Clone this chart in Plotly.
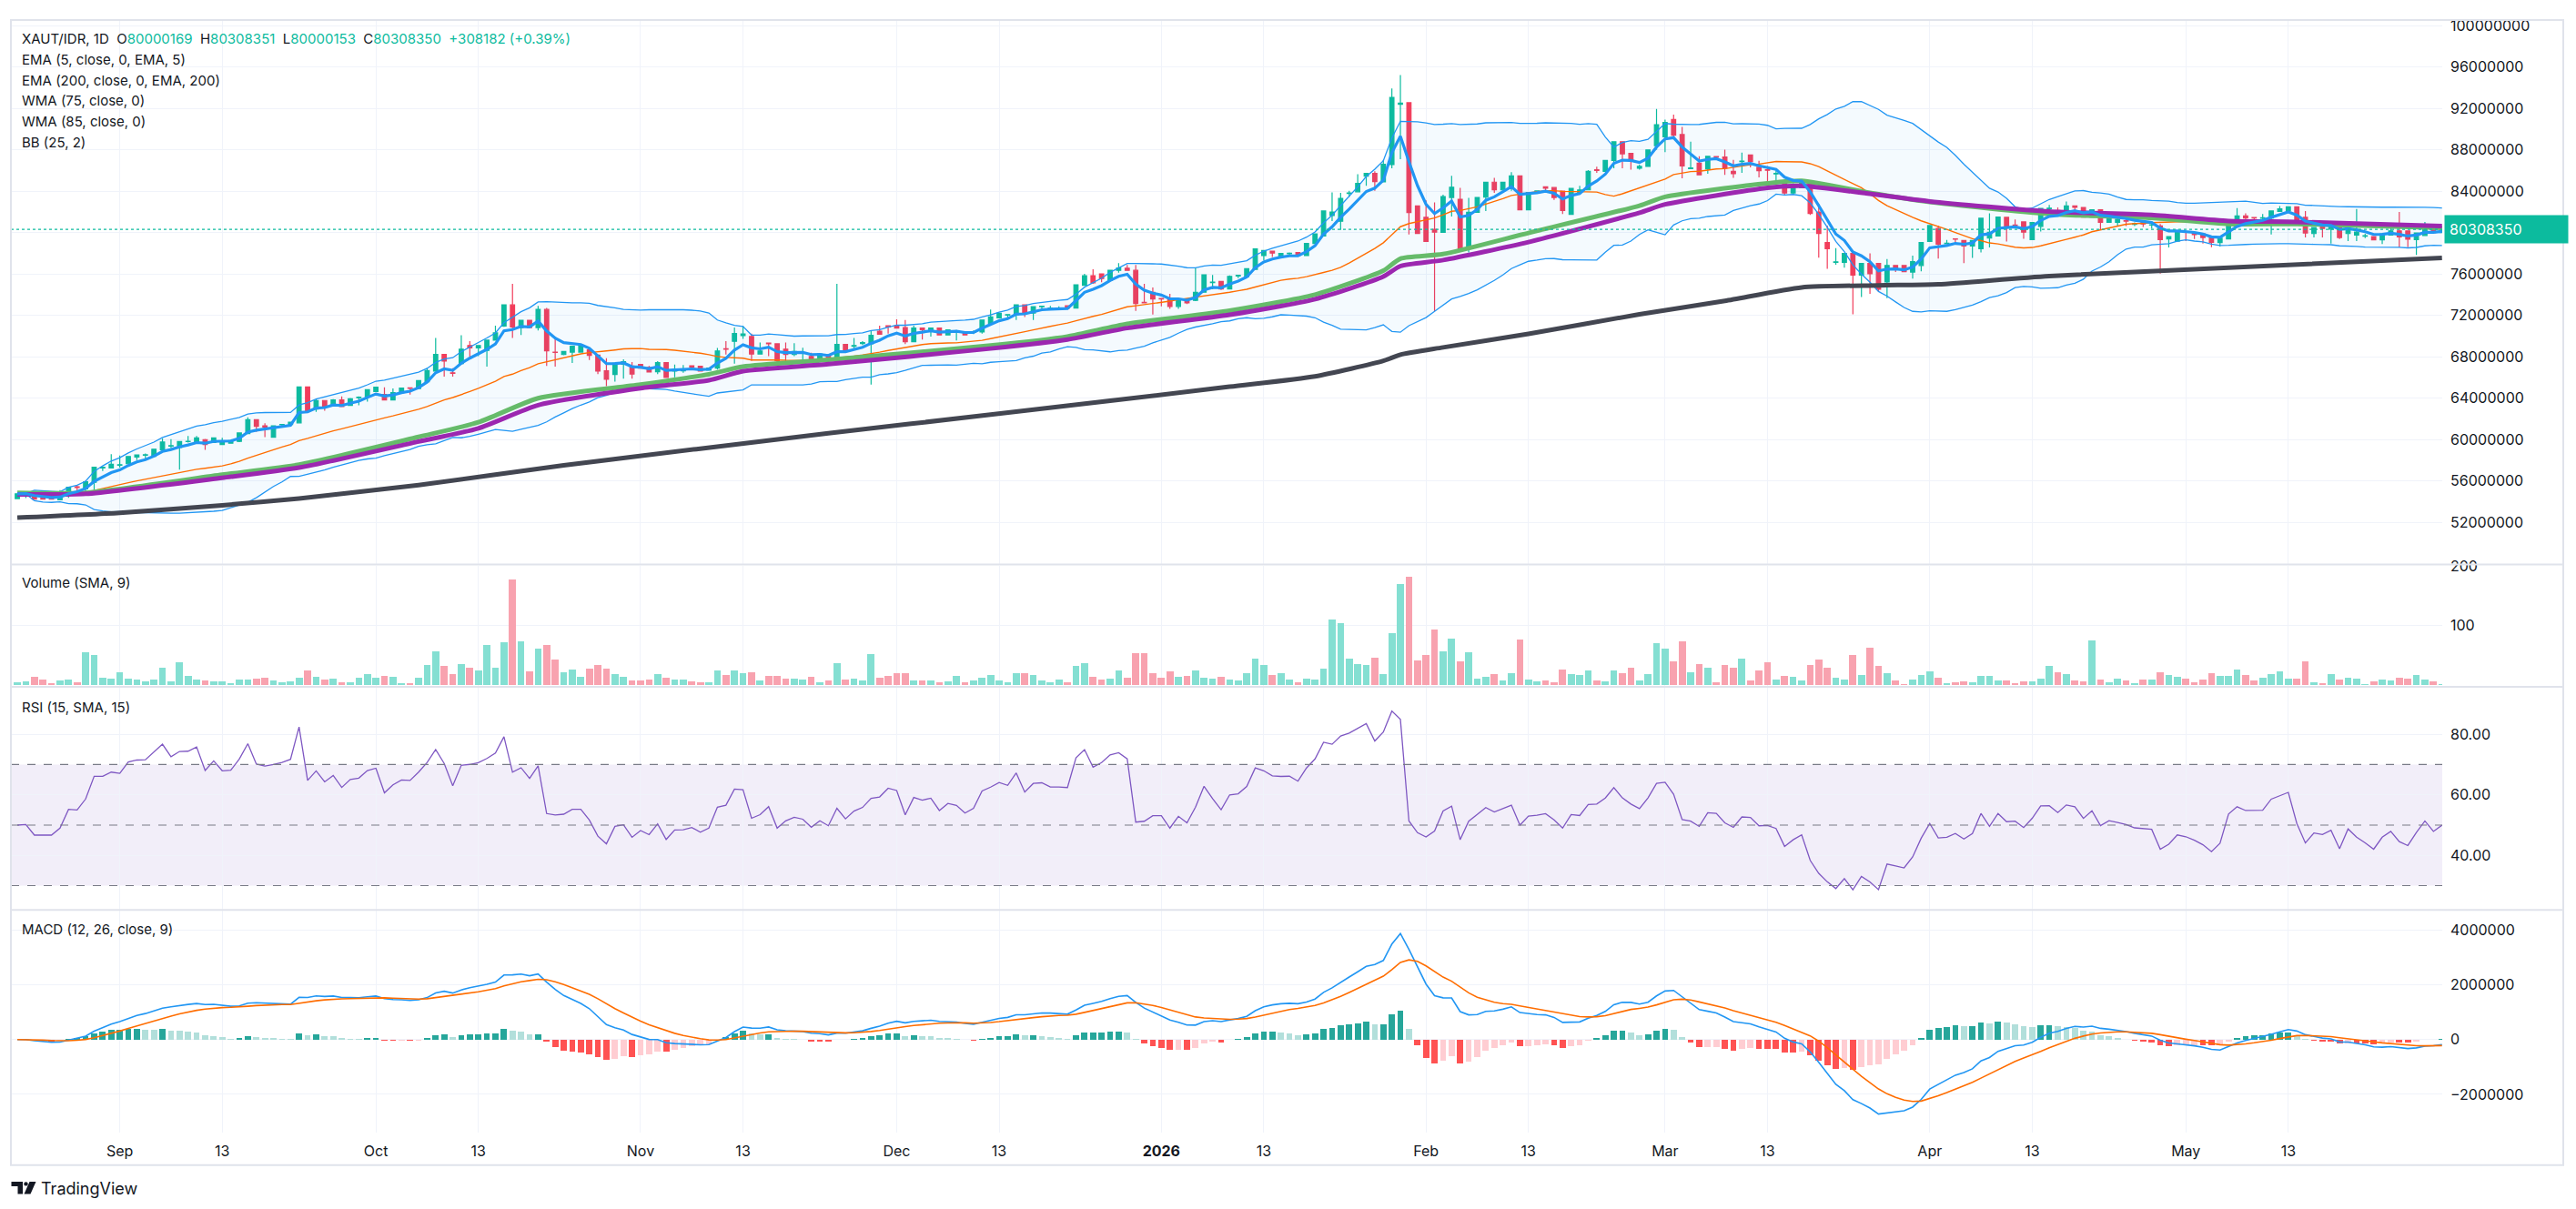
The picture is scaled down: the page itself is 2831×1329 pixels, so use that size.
import numpy as np
import pandas as pd
import plotly.graph_objects as go

# ---------------- data (prices in millions IDR) ----------------
START = "2025-08-20"

open_m = [
54.29, 54.70, 54.75, 54.58, 54.87, 54.17, 55.04, 55.42, 55.22, 55.86,
57.25, 57.25, 57.52, 57.66, 58.30, 58.48, 58.36, 59.00, 59.36, 59.23,
59.79, 59.75, 59.99, 59.70, 59.52, 59.64, 59.81, 60.57, 61.91, 61.32,
60.22, 61.42, 61.44, 61.61, 65.08, 62.95, 63.77, 63.30, 63.83, 63.30,
64.03, 64.12, 64.64, 64.35, 63.83, 64.52, 65.00, 64.93, 65.59, 66.61,
68.23, 66.45, 67.33, 69.08, 68.85, 68.61, 69.60, 70.97, 73.01, 70.82,
71.52, 70.82, 72.57, 68.45, 68.21, 68.44, 68.44, 68.67, 68.15, 66.64,
66.29, 67.27, 67.10, 67.25, 66.96, 66.55, 67.42, 66.61, 66.64, 67.13,
67.07, 66.69, 66.90, 68.78, 69.49, 70.04, 69.95, 68.26, 69.31, 69.25,
68.73, 68.21, 68.33, 68.03, 67.86, 68.21, 67.57, 69.19, 69.00, 69.28,
69.25, 70.47, 71.00, 71.00, 70.82, 69.45, 70.77, 70.47, 70.77, 70.10,
70.45, 70.42, 70.34, 70.39, 71.20, 71.75, 72.03, 72.05, 73.01, 72.22,
72.84, 72.67, 72.67, 72.92, 72.71, 74.90, 75.83, 76.00, 75.39, 76.35,
76.55, 76.35, 73.25, 74.23, 73.62, 73.59, 72.86, 73.59, 73.44, 74.23,
75.17, 75.27, 74.55, 75.80, 75.74, 76.44, 77.78, 78.21, 77.63, 77.95,
78.07, 77.78, 78.94, 79.67, 81.64, 81.09, 83.78, 83.94, 85.45, 85.72,
84.90, 86.56, 92.40, 92.55, 82.57, 81.47, 80.31, 80.02, 83.39, 83.21,
78.56, 81.96, 83.42, 84.87, 84.12, 84.23, 85.48, 82.20, 83.83, 84.41,
84.35, 84.00, 81.76, 83.88, 84.12, 86.06, 85.92, 86.97, 88.77, 87.66,
86.21, 86.39, 88.39, 89.26, 90.92, 89.47, 86.18, 86.71, 86.15, 87.34,
87.29, 85.92, 86.85, 87.49, 86.30, 86.06, 85.66, 84.84, 83.83, 84.32,
84.84, 81.99, 79.03, 77.11, 77.11, 77.98, 75.89, 77.02, 77.02, 75.22,
76.82, 76.82, 76.18, 76.82, 79.14, 80.39, 78.91, 79.38, 79.23, 78.71,
78.44, 79.46, 79.67, 81.47, 80.72, 81.03, 79.32, 80.60, 82.30, 82.14,
81.79, 82.57, 82.43, 81.50, 82.20, 80.98, 80.98, 81.15, 80.80, 80.98,
80.72, 80.63, 79.38, 79.17, 80.07, 79.96, 79.87, 79.58, 79.03, 79.38,
81.06, 81.61, 81.45, 81.39, 81.41, 82.05, 82.14, 82.49, 81.47, 79.90,
80.60, 80.33, 80.54, 79.90, 79.75, 79.64, 79.61, 79.29, 79.75, 80.16,
80.16, 79.32, 79.72, 80.54, 80.000169]

high_m = [
54.80, 54.85, 54.80, 54.62, 54.95, 55.10, 55.39, 55.54, 56.03, 57.31,
57.35, 58.59, 58.44, 58.36, 58.50, 58.65, 59.06, 60.10, 60.04, 59.85,
60.34, 60.34, 60.05, 60.20, 60.16, 59.95, 60.63, 62.14, 61.95, 61.56,
61.32, 61.50, 61.70, 65.10, 65.10, 63.88, 63.80, 63.90, 64.17, 64.00,
64.17, 64.81, 65.05, 65.05, 64.93, 64.96, 65.02, 65.75, 66.90, 69.81,
68.26, 66.90, 70.07, 69.51, 69.08, 69.60, 71.00, 73.01, 75.04, 71.52,
71.55, 72.92, 72.71, 69.95, 68.55, 69.02, 69.05, 68.70, 68.18, 67.86,
67.36, 67.74, 67.48, 67.28, 67.10, 67.57, 67.45, 67.25, 67.19, 67.15,
67.10, 66.92, 68.85, 69.51, 70.82, 70.97, 70.24, 69.37, 69.33, 69.28,
69.37, 69.31, 68.87, 68.38, 68.30, 68.25, 75.04, 69.22, 69.81, 69.51,
70.53, 71.00, 71.02, 71.61, 71.55, 71.00, 70.80, 70.80, 70.80, 70.62,
70.59, 70.45, 70.53, 71.55, 72.57, 72.22, 72.13, 73.01, 73.05, 72.83,
72.92, 72.92, 72.86, 72.95, 74.95, 76.00, 76.44, 76.02, 76.35, 77.05,
76.87, 76.87, 75.04, 74.69, 73.65, 74.08, 73.59, 73.62, 76.58, 75.93,
75.91, 75.30, 75.86, 75.86, 76.50, 78.42, 78.27, 78.25, 78.00, 78.07,
78.10, 78.94, 79.87, 82.08, 83.88, 83.83, 84.03, 85.63, 85.72, 85.92,
87.02, 93.92, 95.23, 92.60, 82.60, 83.10, 82.92, 83.65, 85.48, 84.32,
83.36, 83.45, 84.87, 85.28, 84.90, 85.83, 85.50, 83.88, 84.03, 84.43,
84.38, 84.02, 84.26, 84.52, 86.04, 86.36, 86.97, 88.77, 88.80, 87.70,
86.56, 87.98, 91.94, 90.92, 91.39, 90.20, 88.77, 87.37, 87.37, 87.40,
88.01, 87.02, 87.72, 87.52, 86.94, 86.44, 85.98, 84.86, 84.76, 84.84,
84.86, 82.78, 80.68, 78.50, 77.98, 78.00, 77.02, 77.98, 77.05, 77.43,
76.85, 76.85, 77.78, 79.03, 80.68, 80.68, 79.29, 79.40, 79.25, 79.23,
81.38, 81.85, 81.50, 81.50, 81.27, 81.05, 81.00, 82.34, 82.66, 82.43,
83.01, 82.60, 82.45, 82.20, 82.22, 81.41, 81.41, 81.41, 80.98, 81.00,
80.98, 80.83, 79.65, 80.16, 80.10, 79.98, 79.90, 79.60, 79.46, 81.12,
82.37, 81.85, 81.47, 81.79, 82.08, 82.57, 82.49, 82.51, 82.08, 80.48,
80.62, 80.60, 80.56, 80.54, 82.28, 79.87, 79.63, 79.87, 80.54, 81.99,
80.18, 79.96, 81.03, 80.56, 80.308351]

low_m = [
54.23, 54.35, 54.20, 54.20, 54.20, 54.11, 54.37, 54.75, 54.87, 55.16,
56.96, 57.25, 57.28, 57.60, 58.01, 58.07, 58.30, 58.88, 59.17, 57.08,
59.70, 59.70, 59.00, 59.65, 59.50, 59.60, 59.75, 60.55, 60.74, 60.22,
60.20, 61.32, 61.40, 61.55, 62.75, 62.66, 62.78, 63.25, 63.15, 63.25,
63.30, 63.65, 64.60, 63.80, 63.80, 64.50, 64.35, 64.90, 65.59, 66.61,
66.08, 66.08, 67.33, 67.92, 68.06, 67.04, 69.55, 70.90, 69.81, 70.10,
70.80, 70.53, 67.10, 67.04, 68.15, 67.39, 68.40, 67.68, 66.32, 65.15,
65.59, 65.88, 65.88, 66.88, 66.52, 66.32, 65.94, 66.02, 66.46, 66.69,
66.58, 66.65, 66.75, 68.21, 67.33, 69.72, 67.62, 68.20, 68.06, 67.48,
67.39, 68.06, 67.68, 67.48, 67.80, 67.90, 67.50, 68.45, 68.70, 69.14,
65.30, 70.13, 70.24, 70.75, 69.22, 69.40, 69.66, 69.95, 70.05, 70.05,
69.57, 70.05, 70.18, 70.24, 71.15, 71.70, 71.70, 71.55, 71.84, 71.55,
72.51, 72.51, 72.51, 72.65, 72.65, 74.85, 75.04, 75.19, 75.35, 76.12,
76.30, 72.42, 73.15, 72.07, 72.86, 72.63, 72.63, 73.09, 73.38, 74.20,
74.52, 74.46, 74.50, 75.59, 75.70, 76.40, 77.34, 77.63, 77.60, 77.83,
77.75, 77.75, 78.90, 79.65, 81.12, 80.25, 83.45, 83.90, 84.52, 84.03,
84.85, 86.21, 87.08, 79.81, 79.85, 79.14, 72.39, 80.00, 81.56, 78.42,
78.07, 81.90, 82.08, 83.83, 84.10, 84.03, 82.20, 82.20, 83.80, 83.94,
83.16, 81.79, 81.74, 83.85, 84.10, 85.77, 85.90, 86.21, 86.21, 86.07,
86.07, 86.35, 88.01, 87.78, 89.18, 85.25, 86.15, 85.57, 85.69, 87.02,
85.57, 85.28, 85.77, 86.30, 85.34, 84.76, 84.76, 83.65, 83.65, 84.30,
81.70, 77.57, 76.50, 76.90, 76.61, 72.10, 73.76, 74.08, 74.29, 73.65,
76.18, 76.18, 75.56, 76.26, 79.10, 77.48, 78.88, 79.03, 77.05, 77.54,
78.07, 78.56, 79.65, 79.14, 80.48, 79.40, 79.30, 80.10, 81.91, 81.79,
81.75, 81.79, 81.48, 81.48, 80.25, 80.95, 80.63, 80.63, 80.63, 80.54,
80.39, 76.03, 78.56, 79.15, 79.17, 79.38, 78.94, 78.59, 78.65, 79.35,
81.03, 80.63, 81.27, 81.27, 79.81, 81.99, 81.99, 81.09, 79.52, 79.52,
79.52, 78.94, 79.38, 79.17, 79.17, 79.46, 79.29, 78.88, 79.70, 78.56,
78.59, 77.83, 79.70, 79.96, 80.000153]

close_m = [
54.75, 54.78, 54.23, 54.23, 54.23, 54.52, 55.39, 55.36, 55.91, 57.31,
57.31, 57.60, 57.56, 58.36, 58.50, 58.52, 59.06, 59.75, 59.40, 59.81,
59.83, 60.16, 59.52, 60.16, 59.87, 59.90, 60.63, 61.91, 61.27, 61.21,
61.32, 61.46, 61.67, 65.08, 62.78, 63.77, 63.19, 63.83, 63.19, 63.94,
64.08, 64.81, 65.05, 63.83, 64.52, 64.96, 64.94, 65.69, 66.66, 68.23,
67.57, 66.40, 68.73, 68.85, 69.08, 69.60, 70.30, 73.01, 70.88, 71.52,
70.82, 72.57, 68.56, 68.41, 68.50, 69.02, 69.02, 68.12, 66.61, 65.82,
67.36, 67.51, 66.32, 66.90, 66.52, 67.42, 65.99, 66.78, 66.81, 66.98,
66.61, 66.90, 68.56, 68.73, 70.24, 70.21, 68.26, 68.56, 69.25, 67.62,
68.21, 68.50, 68.37, 67.80, 68.26, 67.92, 69.19, 68.50, 69.08, 69.36,
70.07, 70.18, 70.88, 70.77, 69.45, 70.77, 70.62, 70.77, 70.10, 70.59,
70.49, 70.10, 70.38, 71.55, 71.84, 72.19, 72.07, 73.01, 72.19, 72.83,
72.88, 72.71, 72.71, 72.69, 74.95, 75.83, 75.13, 75.56, 76.35, 76.58,
76.35, 73.15, 73.21, 73.59, 73.59, 72.86, 73.59, 73.21, 74.23, 75.91,
75.21, 74.55, 75.77, 75.86, 76.50, 78.42, 78.27, 78.01, 77.98, 78.00,
77.78, 78.94, 79.87, 82.08, 81.99, 83.30, 83.83, 84.76, 85.72, 84.93,
86.59, 93.05, 92.50, 81.93, 79.90, 79.14, 80.04, 83.48, 84.38, 78.42,
81.96, 83.39, 84.87, 84.12, 84.87, 85.48, 82.20, 83.88, 84.03, 84.29,
83.39, 82.14, 84.26, 84.12, 85.92, 86.00, 86.97, 88.77, 87.61, 86.91,
86.39, 87.98, 90.43, 90.63, 89.41, 86.44, 86.24, 85.57, 87.37, 87.29,
86.21, 85.69, 86.90, 86.85, 85.98, 86.02, 85.72, 83.83, 84.41, 84.84,
81.85, 79.90, 78.44, 77.17, 77.98, 75.89, 77.02, 76.03, 74.52, 76.82,
76.52, 76.21, 77.19, 79.03, 80.68, 78.88, 78.96, 79.35, 78.71, 79.23,
81.38, 80.02, 81.50, 80.63, 80.68, 80.04, 80.98, 82.34, 82.36, 81.79,
82.57, 82.43, 81.50, 82.20, 80.98, 81.41, 81.27, 81.10, 80.86, 80.83,
80.76, 79.32, 79.61, 80.16, 80.04, 79.81, 79.52, 79.06, 79.46, 81.12,
81.61, 81.41, 81.41, 81.43, 82.08, 82.28, 82.49, 81.09, 79.96, 80.48,
80.39, 80.60, 79.52, 80.54, 80.04, 79.69, 79.29, 79.87, 80.16, 79.58,
79.35, 79.96, 80.54, 80.000168, 80.30835]

volume = [
5, 6.5, 13.6, 9, 3, 7.5, 9, 5, 54.5, 50.5,
12, 10.6, 21, 10.6, 9, 6.5, 9, 29, 6.5, 38,
15, 9, 7.5, 6.5, 6.5, 3, 9, 9, 10.6, 12,
7.5, 5, 6.5, 12, 24, 13.6, 9, 10.6, 5, 5,
12, 18, 12, 15, 13.6, 3, 3, 12, 34, 56,
32, 18, 35, 29, 24, 67, 29, 71, 177, 73,
23, 61, 67, 42, 21, 26, 13.6, 27, 33, 27,
18, 13.6, 7.5, 7.5, 9, 18, 12, 9, 9, 6,
4.5, 4.5, 24, 16.7, 24, 20, 21, 7.5, 15, 15,
10.6, 10.6, 9, 13.6, 4.5, 7.5, 36, 9, 10.6, 7.5,
51.5, 12, 15, 19.7, 19.7, 7.5, 7.5, 7.5, 4.5, 6,
15, 4.5, 7.5, 12, 16.7, 7.5, 4.5, 19.7, 19.7, 16.7,
7.5, 4.5, 9, 4.5, 32, 36, 13.6, 9, 10.6, 24,
12, 53, 53, 19.7, 12, 23, 13.6, 15, 24, 12,
10.6, 13.6, 9, 7.5, 19.7, 44, 33, 16.7, 20, 9.6,
5, 11, 9.6, 28, 110, 103.5, 44, 35, 34, 46,
18.7, 87, 170, 182, 41, 50.5, 93, 56.6, 78, 40,
55, 11, 14, 18.7, 8, 20, 76, 9.6, 6.6, 8,
5, 26, 18.7, 17, 24.7, 8, 6.6, 24.7, 20, 29,
8, 18.7, 70, 61, 40, 73, 21.7, 35, 29, 5,
34, 29, 44, 8, 24.7, 38, 9.6, 15.7, 14, 8,
34, 43, 29, 12.6, 9.6, 50.5, 17, 62.6, 32, 20,
8, 2, 9.6, 17, 23, 12.6, 3.5, 5, 6.6, 5,
15.7, 15.7, 8, 8, 3.5, 6.6, 6.6, 11, 32, 21.7,
18.7, 8, 6.6, 75, 9.6, 5, 11, 8, 3.5, 9.6,
9.6, 21.7, 17, 14, 11, 5, 9.6, 20, 15.7, 15.7,
26, 17, 8, 12.6, 18.7, 23, 11, 11, 40, 5,
3.5, 18.7, 9.6, 12.6, 11, 2, 6.6, 9.6, 8, 12.6,
11, 17, 9.6, 6.6, 2]

# slow moving averages (day index from START, value in millions)
ema200_day = [0, 12, 24, 33, 47, 64, 95, 114, 142, 152, 160, 162, 167, 177, 190, 200, 209, 218, 225, 238, 284]
ema200_m   = [52.45, 52.92, 53.64, 54.3, 55.6, 57.5, 60.6, 62.4, 65.1, 66.1, 67.6, 68.2, 68.9, 70.2, 72.1, 73.4, 74.7, 74.9, 75.0, 75.8, 77.55]
wma75_day = [0, 8, 24, 33, 47, 54, 61, 73, 81, 85, 95, 114, 123, 130, 142, 152, 160, 162, 167, 177, 190, 193, 205, 209, 217, 224, 238, 250, 259, 267, 284]
wma75_m   = [54.85, 54.85, 56.6, 57.57, 60.25, 61.66, 63.99, 65.3, 66.3, 67.04, 67.7, 69.08, 69.95, 71.17, 72.45, 74.0, 76.32, 77.48, 77.92, 79.96, 82.6, 83.45, 84.76, 84.99, 83.83, 82.95, 81.8, 81.41, 80.83, 80.83, 80.45]
wma85_day = wma75_day
wma85_m   = [54.7, 54.75, 56.3, 57.28, 59.8, 61.08, 63.32, 64.95, 65.73, 66.6, 67.28, 68.79, 69.66, 70.77, 72.05, 73.56, 75.74, 76.76, 77.34, 79.08, 81.92, 82.72, 84.32, 84.52, 83.74, 83.01, 82.03, 81.70, 81.12, 81.03, 80.63]

tick_dates = ["2025-09-01", "2025-09-13", "2025-10-01", "2025-10-13", "2025-11-01", "2025-11-13",
              "2025-12-01", "2025-12-13", "2026-01-01", "2026-01-13", "2026-02-01", "2026-02-13",
              "2026-03-01", "2026-03-13", "2026-04-01", "2026-04-13", "2026-05-01", "2026-05-13"]
tick_text = ["Sep", "13", "Oct", "13", "Nov", "13", "Dec", "13", "<b>2026</b>", "13",
             "Feb", "13", "Mar", "13", "Apr", "13", "May", "13"]

price_ticks_m = [52, 56, 60, 64, 68, 72, 76, 80, 84, 88, 92, 96, 100]
last_close = 80308350

# ---------------- derived ----------------
M = 1_000_000
n = len(close_m)
dates = pd.date_range(START, periods=n, freq="D")
t0 = pd.Timestamp(START)
o = np.array(open_m) * M
h = np.array(high_m) * M
l = np.array(low_m) * M
c = np.array(close_m) * M
vol = np.array(volume, dtype=float)

cs = pd.Series(c)
ema5 = cs.ewm(span=5, adjust=False).mean()
basis = cs.rolling(25, min_periods=1).mean()
dev = cs.rolling(25, min_periods=1).std(ddof=0)
bb_up = basis + 2 * dev
bb_lo = basis - 2 * dev

# RSI 15 (Wilder)
diff = np.diff(c, prepend=c[0])
ag = al = 0.3 * M
rsi = []
for d in diff:
    ag = (ag * 14 + max(d, 0)) / 15
    al = (al * 14 + max(-d, 0)) / 15
    rsi.append(100 * ag / (ag + al))

ema12 = cs.ewm(span=12, adjust=False).mean()
ema26 = cs.ewm(span=26, adjust=False).mean()
macd = ema12 - ema26
signal = macd.ewm(span=9, adjust=False).mean()
hist = (macd - signal).values

UP = "#0CBB9E"
DN = "#F23D5B"
VUP = "#84DFD2"
VDN = "#F8A2AF"
GRID = "#F0F3FA"
TXT = "#131722"
FONT = "Inter, Roboto, sans-serif"

vcol = [VUP if c[i] >= o[i] else VDN for i in range(n)]
hcol = []
for i in range(n):
    prev = hist[i - 1] if i > 0 else 0
    if hist[i] >= 0:
        hcol.append("#26A69A" if hist[i] > prev else "#B2DFDB")
    else:
        hcol.append("#FF5252" if hist[i] < prev else "#FFCDD2")

# ---------------- layout geometry (px) ----------------
W, H = 2831, 1329
PL, PR, PT, PB = 12, 2684, 13, 1245


def px_x(px):
    return (px - PL) / (PR - PL)


def px_y(py):
    return (PB - py) / (PB - PT)


def dom(top, bot):
    return [px_y(bot), px_y(top)]


fig = go.Figure()

def d2(idx):
    return [t0 + pd.Timedelta(days=int(k)) for k in idx]

# BB
fig.add_trace(go.Scatter(x=dates, y=bb_up, mode="lines", line=dict(color="#2196F3", width=1.3),
                         xaxis="x", yaxis="y", hoverinfo="skip"))
fig.add_trace(go.Scatter(x=dates, y=bb_lo, mode="lines", line=dict(color="#2196F3", width=1.3),
                         fill="tonexty", fillcolor="rgba(33,150,243,0.05)", xaxis="x", yaxis="y", hoverinfo="skip"))
fig.add_trace(go.Scatter(x=dates, y=basis, mode="lines", line=dict(color="#FF6D00", width=1.4),
                         xaxis="x", yaxis="y", hoverinfo="skip"))
fig.add_trace(go.Scatter(x=d2(ema200_day), y=np.array(ema200_m) * M, mode="lines",
                         line=dict(color="#434651", width=5, shape="spline", smoothing=0.6),
                         xaxis="x", yaxis="y", hoverinfo="skip"))
fig.add_trace(go.Scatter(x=d2(wma75_day), y=np.array(wma75_m) * M, mode="lines",
                         line=dict(color="#66BB6A", width=5, shape="spline", smoothing=0.6),
                         xaxis="x", yaxis="y", hoverinfo="skip"))
fig.add_trace(go.Scatter(x=d2(wma85_day), y=np.array(wma85_m) * M, mode="lines",
                         line=dict(color="#9C27B0", width=5, shape="spline", smoothing=0.6),
                         xaxis="x", yaxis="y", hoverinfo="skip"))
fig.add_trace(go.Scatter(x=dates, y=ema5, mode="lines", line=dict(color="#2196F3", width=3.2),
                         xaxis="x", yaxis="y", hoverinfo="skip"))
fig.add_trace(go.Candlestick(x=dates, open=o, high=h, low=l, close=c,
                             increasing=dict(line=dict(color=UP, width=1.2), fillcolor=UP),
                             decreasing=dict(line=dict(color=DN, width=1.2), fillcolor=DN),
                             whiskerwidth=0, xaxis="x", yaxis="y", hoverinfo="skip"))
# volume
fig.add_trace(go.Bar(x=dates, y=vol, marker=dict(color=vcol, line=dict(width=0)),
                     width=0.82 * 86400000, xaxis="x2", yaxis="y2", hoverinfo="skip"))
# RSI
fig.add_trace(go.Scatter(x=dates, y=rsi, mode="lines", line=dict(color="#7E57C2", width=1.3),
                         xaxis="x3", yaxis="y3", hoverinfo="skip"))
# MACD
fig.add_trace(go.Bar(x=dates, y=hist, marker=dict(color=hcol, line=dict(width=0)),
                     width=0.72 * 86400000, xaxis="x4", yaxis="y4", hoverinfo="skip"))
fig.add_trace(go.Scatter(x=dates, y=macd, mode="lines", line=dict(color="#2196F3", width=1.6),
                         xaxis="x4", yaxis="y4", hoverinfo="skip"))
fig.add_trace(go.Scatter(x=dates, y=signal, mode="lines", line=dict(color="#FF6D00", width=1.6),
                         xaxis="x4", yaxis="y4", hoverinfo="skip"))

x_range = [t0 - pd.Timedelta(hours=18), t0 + pd.Timedelta(days=284.03)]
xbase = dict(type="date", range=x_range, tickvals=tick_dates, ticktext=tick_text,
             showgrid=True, gridcolor=GRID, gridwidth=1, zeroline=False, showline=False,
             ticks="", fixedrange=True, rangeslider=dict(visible=False), domain=[0, 1])
ybase = dict(side="right", showgrid=True, gridcolor=GRID, gridwidth=1, zeroline=False,
             showline=False, ticks="", fixedrange=True,
             tickfont=dict(size=16, color=TXT, family=FONT), ticklabelstandoff=8)

price_text = ["" if v == 80 else str(int(v * M)) for v in price_ticks_m]

fig.update_layout(
    width=W, height=H, autosize=False,
    margin=dict(l=PL, r=W - PR, t=PT, b=H - PB, pad=0),
    paper_bgcolor="white", plot_bgcolor="white",
    showlegend=False, hovermode=False, bargap=0,
    font=dict(family=FONT, color=TXT, size=16),
    xaxis=dict(xbase, anchor="y", showticklabels=False),
    xaxis2=dict(xbase, anchor="y2", matches="x", showticklabels=False),
    xaxis3=dict(xbase, anchor="y3", matches="x", showticklabels=False),
    xaxis4=dict(xbase, anchor="y4", matches="x", showticklabels=True,
                tickfont=dict(size=16, color=TXT, family=FONT), ticklabelstandoff=9),
    yaxis=dict(ybase, anchor="x", domain=dom(PT, 615), range=[48.0 * M, 100.54 * M],
               tickvals=[v * M for v in price_ticks_m], ticktext=price_text),
    yaxis2=dict(ybase, anchor="x2", domain=dom(617, 751), range=[-2.6, 200.5],
                tickvals=[100, 200], ticktext=["100", "200"]),
    yaxis3=dict(ybase, anchor="x3", domain=dom(752, 998), range=[22.1, 95.5],
                tickvals=[40, 60, 80], ticktext=["40.00", "60.00", "80.00"]),
    yaxis4=dict(ybase, anchor="x4", domain=dom(999, PB), range=[-3.40 * M, 4.72 * M],
                tickvals=[-2 * M, 0, 2 * M, 4 * M], ticktext=["\u22122000000", "0", "2000000", "4000000"]),
)

shapes = []
# RSI band and levels
shapes.append(dict(type="rect", xref="paper", yref="y3", x0=0, x1=1, y0=30, y1=70,
                   fillcolor="rgba(126,87,194,0.10)", line=dict(width=0), layer="below"))
for lv in (70, 50, 30):
    shapes.append(dict(type="line", xref="paper", yref="y3", x0=0, x1=1, y0=lv, y1=lv,
                       line=dict(color="#787B86", width=1.2, dash="dash")))
# last price line
shapes.append(dict(type="line", xref="paper", yref="y", x0=0, x1=1, y0=last_close, y1=last_close,
                   line=dict(color=UP, width=1.2, dash="dot")))
# pane separators
for sy in (616, 751.5, 998.5):
    shapes.append(dict(type="line", xref="paper", yref="paper", x0=px_x(12), x1=px_x(2817),
                       y0=px_y(sy), y1=px_y(sy), line=dict(color="#E0E3EB", width=2)))
# outer frame
shapes.append(dict(type="rect", xref="paper", yref="paper", x0=px_x(12), x1=px_x(2817),
                   y0=px_y(1281), y1=px_y(13), line=dict(color="#E0E3EB", width=2)))


# TradingView logo (icon)
def path(pts):
    return "M " + " L ".join(f"{px_x(a):.6f},{px_y(b):.6f}" for a, b in pts) + " Z"


shapes.append(dict(type="path", xref="paper", yref="paper",
                   path=path([(12.5, 1299.5), (25, 1299.5), (25, 1313), (19.5, 1313), (19.5, 1304.5), (12.5, 1304.5)]),
                   fillcolor=TXT, line=dict(width=0)))
shapes.append(dict(type="circle", xref="paper", yref="paper",
                   x0=px_x(26.3), x1=px_x(30.7), y0=px_y(1304), y1=px_y(1299.6),
                   fillcolor=TXT, line=dict(width=0)))
shapes.append(dict(type="path", xref="paper", yref="paper",
                   path=path([(32.5, 1299.5), (39.5, 1299.5), (33.5, 1313), (26.5, 1313)]),
                   fillcolor=TXT, line=dict(width=0)))
fig.update_layout(shapes=shapes)

ann = []


def label(text, x, y, size=15, color=TXT, **kw):
    ann.append(dict(text=text, xref="paper", yref="paper", x=px_x(x), y=px_y(y),
                    xanchor="left", yanchor="middle", showarrow=False,
                    font=dict(size=size, color=color, family=FONT), **kw))


g = lambda s: f'<span style="color:{UP}">{s}</span>'
header = ("XAUT/IDR, 1D&nbsp;&nbsp;O" + g("80000169") + "&nbsp;&nbsp;H" + g("80308351") +
          "&nbsp;&nbsp;L" + g("80000153") + "&nbsp;&nbsp;C" + g("80308350") + "&nbsp;&nbsp;" +
          g("+308182 (+0.39%)"))
label(header, 22, 33.5)
label("EMA (5, close, 0, EMA, 5)", 22, 56.8)
label("EMA (200, close, 0, EMA, 200)", 22, 80)
label("WMA (75, close, 0)", 22, 102.5)
label("WMA (85, close, 0)", 22, 125.5)
label("BB (25, 2)", 22, 148.5)
label("Volume (SMA, 9)", 22, 636)
label("RSI (15, SMA, 15)", 22, 774)
label("MACD (12, 26, close, 9)", 22, 1020)
label("TradingView", 43, 1307, size=18)

ann.append(dict(text="80308350", xref="paper", yref="y", x=1, y=last_close, xanchor="left",
                yanchor="middle", xshift=2, showarrow=False, bgcolor=UP, borderpad=5,
                width=125, align="left", font=dict(size=16, color="white", family=FONT)))
fig.update_layout(annotations=ann)

fig.write_html("out.html", include_plotlyjs=True,
               config={"displayModeBar": False, "staticPlot": True},
               post_script="document.body.style.margin='0';document.body.style.padding='0';"
                           "document.body.style.overflow='hidden';")
